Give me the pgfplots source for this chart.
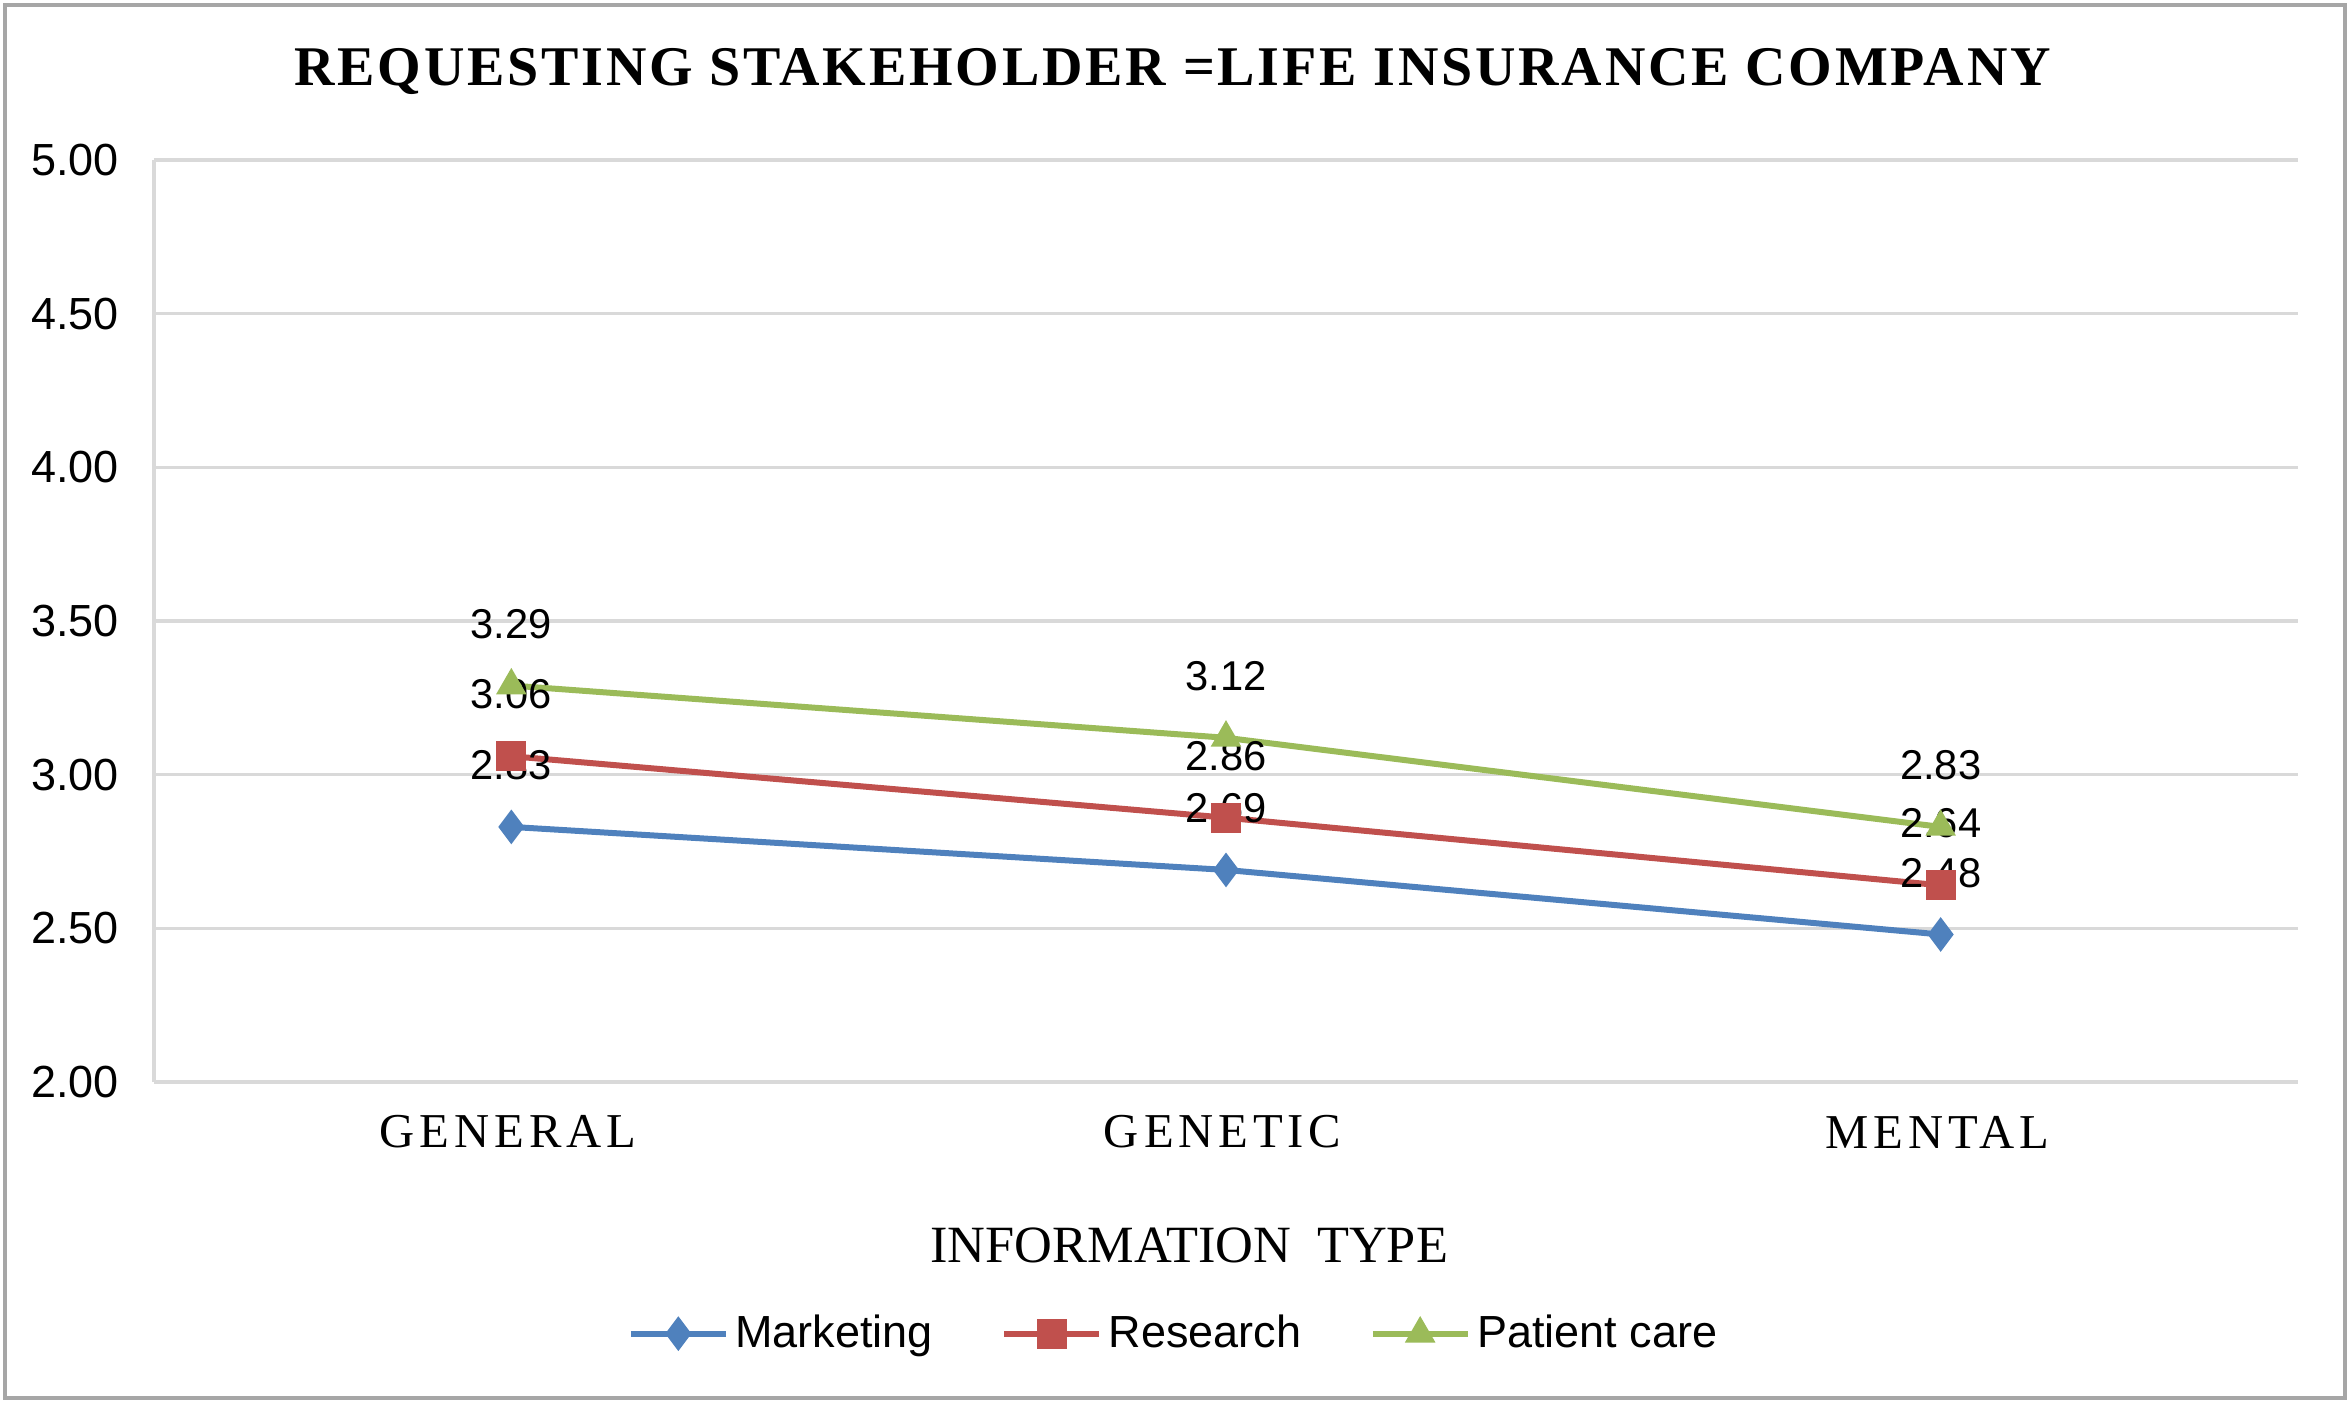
\documentclass[border=0pt]{standalone}
\usepackage{fontspec}
\setmainfont{Liberation Serif}
\newfontfamily\numfont{Liberation Sans}
\newfontfamily\titlefont[LetterSpace=5]{Liberation Serif}
\newfontfamily\catfont[LetterSpace=10]{Liberation Serif}
\usepackage{pgfplots}
\pgfplotsset{compat=1.18}
\definecolor{mblue}{HTML}{4F81BD}
\definecolor{mred}{HTML}{C0504D}
\definecolor{mgreen}{HTML}{9BBB59}
\definecolor{gridgray}{HTML}{D9D9D9}
\definecolor{framegray}{HTML}{A6A6A6}
\begin{document}
\begin{tikzpicture}
\useasboundingbox (-46.2pt,-96.3pt) rectangle (658.8pt,324.6pt);
\draw[color=framegray, line width=1.2pt] (-44.8pt,-94.9pt) rectangle (657.2pt,323.2pt);
\begin{axis}[
  at={(0,0)}, anchor=south west,
  scale only axis,
  width=643.2pt, height=276.6pt,
  xmin=-0.5, xmax=2.5, ymin=2, ymax=5,
  xtick={0,1,2}, xticklabels={GENERAL,GENETIC,MENTAL},
  ytick={2,2.5,3,3.5,4,4.5,5},
  /pgf/number format/assume math mode=true,
  yticklabel style={/pgf/number format/fixed, /pgf/number format/fixed zerofill, /pgf/number format/precision=2},
  y tick label style={font=\numfont\fontsize{13.5pt}{15pt}\selectfont, anchor=east, xshift=-7pt},
  x tick label style={font=\catfont\fontsize{14.6pt}{16pt}\selectfont, anchor=center, yshift=-15pt, xshift=-1pt},
  major tick length=0pt,
  ymajorgrids,
  grid style={gridgray, line width=1pt},
  axis x line*=bottom, axis y line*=left,
  axis line style={gridgray, line width=1pt},
  title={\titlefont\bfseries REQUESTING STAKEHOLDER =LIFE INSURANCE COMPANY},
  title style={font=\fontsize{16.8pt}{19pt}\selectfont, at={(0.5,1)}, anchor=center, xshift=-16pt, yshift=20.5pt},
  xlabel={INFORMATION\ \ TYPE},
  xlabel style={font=\fontsize{15.7pt}{18pt}\selectfont, at={(0.5,0)}, anchor=center, xshift=-11pt, yshift=-49pt},
  legend columns=3,
  legend style={at={(0.5,0)}, anchor=center, xshift=-15pt, yshift=-75.5pt, draw=none,
    font=\numfont\fontsize{13.5pt}{15pt}\selectfont,
    /tikz/every even column/.append style={column sep=18.5pt}},
  legend image code/.code={\draw[mark repeat=2,mark phase=2] plot coordinates {(0cm,0cm) (0.5cm,0cm) (1cm,0cm)};},
  nodes near coords={\pgfmathprintnumber[fixed,fixed zerofill,precision=2]{\pgfplotspointmeta}},
  every node near coord/.append style={font=\numfont\fontsize{12.5pt}{14pt}\selectfont, text=black, anchor=center, yshift=18.5pt},
  clip=false,
]
\addplot[color=mblue, line width=1.8pt, mark=diamond*, mark size=4.8pt, mark options={solid, line width=0.5pt}] coordinates {(0,2.83) (1,2.69) (2,2.48)};
\addlegendentry{Marketing}
\addplot[color=mred, line width=1.8pt, mark=square*, mark size=4.2pt, mark options={solid, line width=0.5pt}] coordinates {(0,3.06) (1,2.86) (2,2.64)};
\addlegendentry{Research}
\addplot[color=mgreen, line width=1.8pt, mark=triangle*, mark size=4.8pt, mark options={solid, line width=0.5pt}] coordinates {(0,3.29) (1,3.12) (2,2.83)};
\addlegendentry{Patient care}
\end{axis}
\end{tikzpicture}
\end{document}
